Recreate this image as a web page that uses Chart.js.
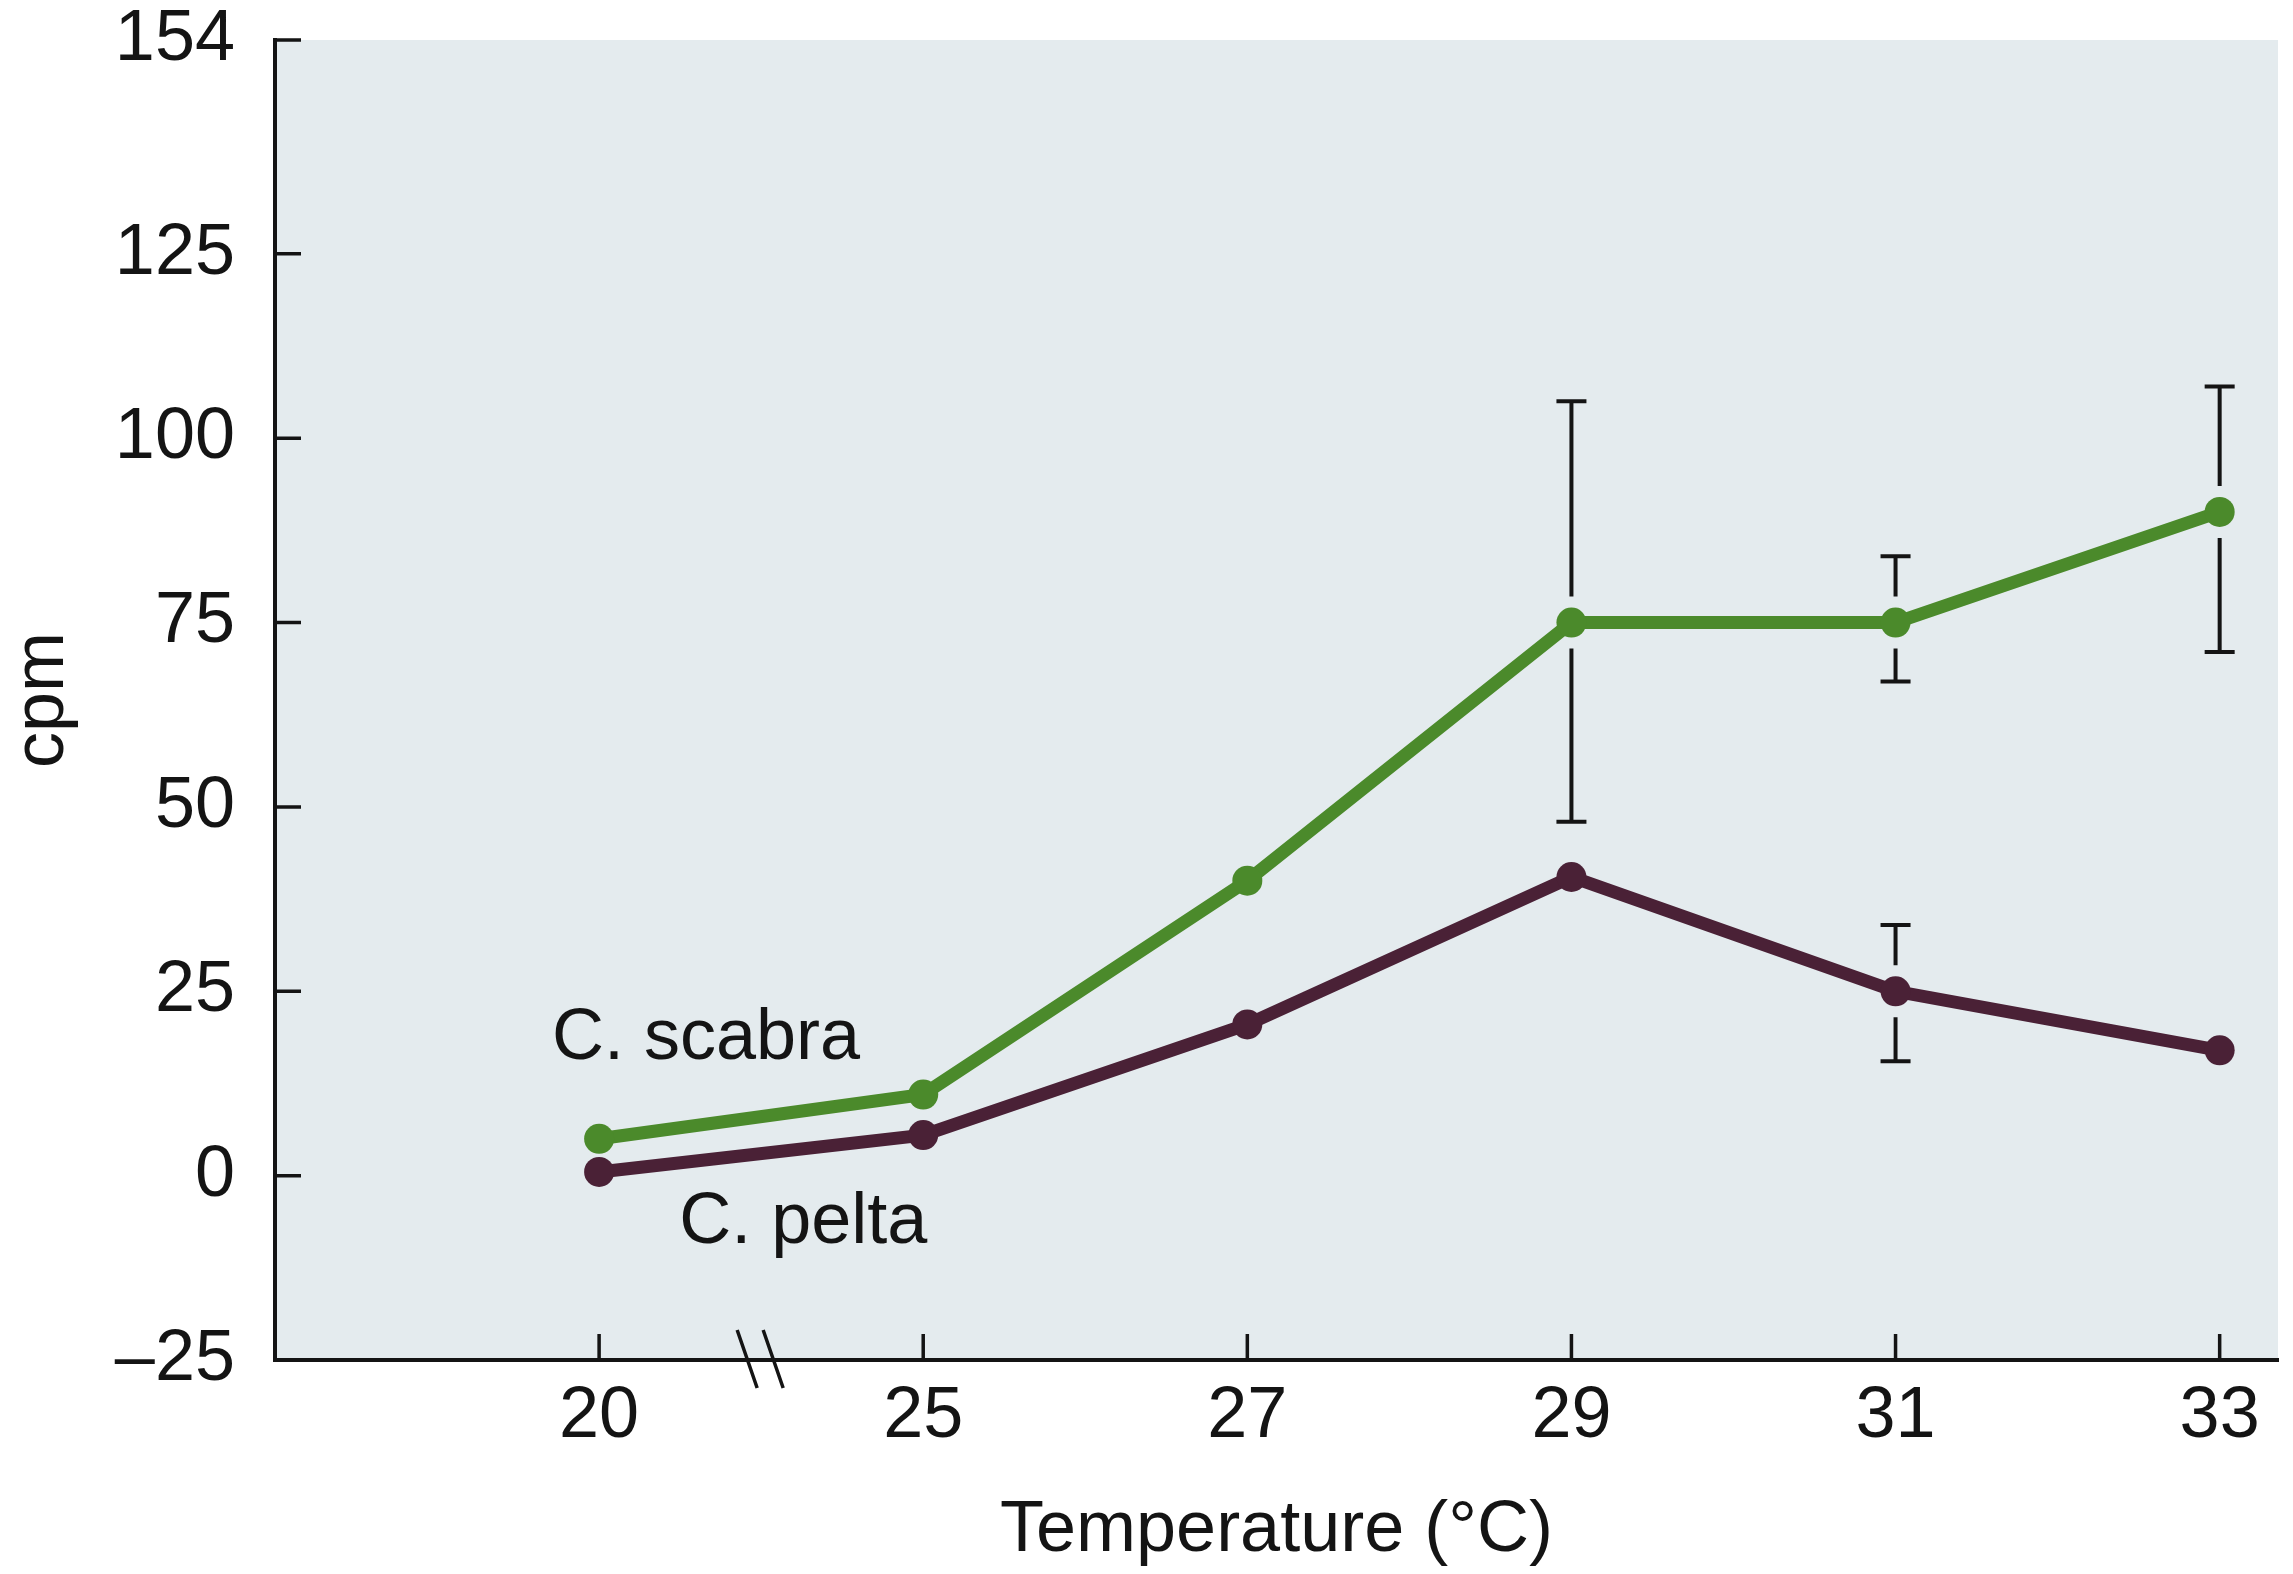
<!DOCTYPE html>
<html>
<head>
<meta charset="utf-8">
<script src="https://cdn.jsdelivr.net/npm/chart.js@4.4.1/dist/chart.umd.min.js"></script>
<style>
  html, body { margin: 0; padding: 0; background: #fff; }
  #wrap { width: 2293px; height: 1574px; }
</style>
</head>
<body>
<div id="wrap"><canvas id="chart" width="2293" height="1574"></canvas></div>
<script>
// temperatures (evenly spaced categories, axis is broken between 20 and 25)
const temps = ['20', '25', '27', '29', '31', '33']
// cpm
const scabra = [5, 11, 40, 75, 75, 90]
const pelta = [0.5, 5.5, 20.5, 40.5, 25, 17]
// error bars (null = none drawn)
const scabraLow = [null, null, null, 48, 67, 71]
const scabraHigh = [null, null, null, 105, 84, 107]
const peltaLow = [null, null, null, null, 15.5, null]
const peltaHigh = [null, null, null, null, 34, null]
const yTicks = [-25, 0, 25, 50, 75, 100, 125, 154]

const green = '#4b8a2b'
const plum = '#4a2136'
const ink = '#141414'
const font = 'Liberation Sans, Arial, Helvetica, sans-serif'

const toPoints = arr => arr.map((v, i) => ({ x: i, y: v }))

const plotBg = {
    id: 'plotBg',
    beforeDraw(chart) {
        const { ctx, chartArea: a } = chart
        ctx.save()
        ctx.fillStyle = '#e4ebee'
        ctx.fillRect(a.left, a.top, a.right - a.left, a.bottom - a.top)
        ctx.restore()
    }
}

const errorBars = {
    id: 'errorBars',
    afterDatasetsDraw(chart) {
        const { ctx } = chart
        const y = chart.scales.y
        ctx.save()
        ctx.strokeStyle = ink
        ctx.lineWidth = 4
        chart.data.datasets.forEach((ds, di) => {
            const meta = chart.getDatasetMeta(di)
            ds.low.forEach((lo, i) => {
                const hi = ds.high[i]
                if (lo === null || hi === null) return
                const p = meta.data[i]
                const yLo = y.getPixelForValue(lo)
                const yHi = y.getPixelForValue(hi)
                const gap = 26
                ctx.beginPath()
                ctx.moveTo(p.x, yHi)
                ctx.lineTo(p.x, p.y - gap)
                ctx.moveTo(p.x, p.y + gap)
                ctx.lineTo(p.x, yLo)
                ctx.moveTo(p.x - 15, yHi)
                ctx.lineTo(p.x + 15, yHi)
                ctx.moveTo(p.x - 15, yLo)
                ctx.lineTo(p.x + 15, yLo)
                ctx.stroke()
            })
        })
        ctx.restore()
    }
}

const axisExtras = {
    id: 'axisExtras',
    afterDraw(chart) {
        const { ctx, chartArea: a } = chart
        const x = chart.scales.x
        const y = chart.scales.y
        ctx.save()
        ctx.strokeStyle = ink
        ctx.lineWidth = 3.5
        ctx.beginPath()
        // inward tick marks
        y.ticks.forEach(t => {
            const py = y.getPixelForValue(t.value)
            ctx.moveTo(a.left, py)
            ctx.lineTo(a.left + 26, py)
        })
        x.ticks.forEach(t => {
            const px = x.getPixelForValue(t.value)
            ctx.moveTo(px, a.bottom)
            ctx.lineTo(px, a.bottom - 26)
        })
        // axis break marks between 20 and 25
        const bx = x.getPixelForValue(0.5)
        ;[-14, 12].forEach(dx => {
            ctx.moveTo(bx + dx - 10, a.bottom - 30)
            ctx.lineTo(bx + dx + 10, a.bottom + 28)
        })
        ctx.stroke()

        // series labels
        ctx.fillStyle = ink
        ctx.font = '72px ' + font
        ctx.textAlign = 'center'
        ctx.textBaseline = 'middle'
        ctx.fillText('C. scabra', x.getPixelForValue(0.33), y.getPixelForValue(18.5))
        ctx.fillText('C. pelta', x.getPixelForValue(0.63), y.getPixelForValue(-6.5))
        ctx.restore()
    }
}

const ctx = document.getElementById('chart').getContext('2d')

const chart = new Chart(ctx, {
    type: 'scatter',
    data: {
        datasets: [
            {
                label: 'C. scabra',
                data: toPoints(scabra),
                low: scabraLow,
                high: scabraHigh,
                showLine: true,
                borderColor: green,
                backgroundColor: green,
                borderWidth: 13,
                pointRadius: 15,
                pointBorderWidth: 0,
                tension: 0
            },
            {
                label: 'C. pelta',
                data: toPoints(pelta),
                low: peltaLow,
                high: peltaHigh,
                showLine: true,
                borderColor: plum,
                backgroundColor: plum,
                borderWidth: 13,
                pointRadius: 15,
                pointBorderWidth: 0,
                tension: 0
            }
        ]
    },
    options: {
        responsive: false,
        animation: false,
        layout: { padding: { top: 40, right: 9, left: 0, bottom: 0 } },
        plugins: {
            legend: { display: false },
            tooltip: { enabled: false }
        },
        scales: {
            x: {
                type: 'linear',
                min: -1,
                max: 5.18,
                afterBuildTicks: s => { s.ticks = temps.map((t, i) => ({ value: i })) },
                afterFit: s => { s.height = 214 },
                grid: { display: false, drawTicks: false },
                border: { display: true, color: ink, width: 4 },
                ticks: {
                    padding: 14,
                    color: ink,
                    font: { family: font, size: 72 },
                    callback: v => temps[v]
                },
                title: {
                    display: true,
                    text: 'Temperature (°C)',
                    color: ink,
                    font: { family: font, size: 72 },
                    padding: { top: 0, bottom: 0 }
                }
            },
            y: {
                min: -25,
                max: 154,
                afterBuildTicks: s => { s.ticks = yTicks.map(v => ({ value: v })) },
                afterFit: s => {
                    s.width = 275
                    // labels only need room above the top tick, not the label gap
                    s.paddingTop = 0
                    s.paddingBottom = 0
                },
                grid: { display: false, drawTicks: false },
                border: { display: true, color: ink, width: 4 },
                ticks: {
                    padding: 40,
                    color: ink,
                    font: { family: font, size: 72 },
                    callback: v => v < 0 ? '\u2013' + Math.abs(v) : String(v)
                },
                title: {
                    display: true,
                    text: 'cpm',
                    color: ink,
                    font: { family: font, size: 72 },
                    padding: { top: 0, bottom: 0 }
                }
            }
        }
    },
    plugins: [plotBg, errorBars, axisExtras]
})
</script>
</body>
</html>
